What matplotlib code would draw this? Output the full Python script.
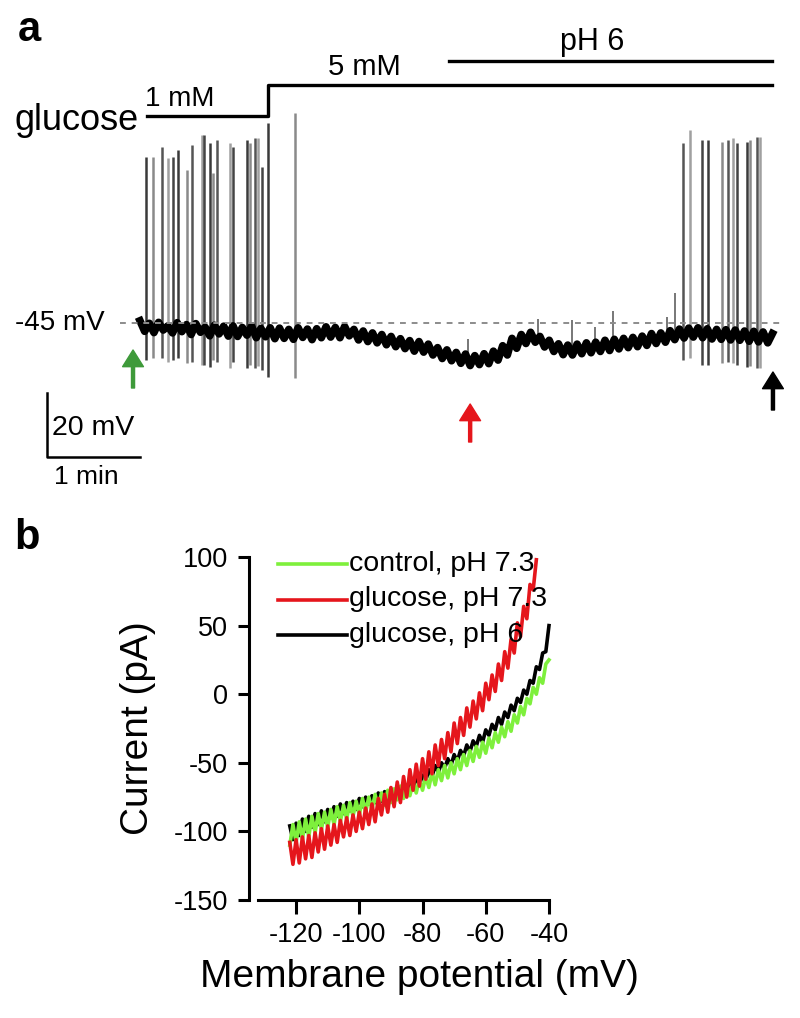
import numpy as np
import matplotlib.pyplot as plt

plt.rcParams['font.family'] = ['Liberation Sans', 'DejaVu Sans']
plt.rcParams['axes.unicode_minus'] = False

# ---------------- panel a : membrane potential trace ----------------
dt = 0.05  # min between baseline samples
baseline_mv = [
    -44.3, -47.6, -45.1, -48.0, -44.8, -47.2, -45.9, -48.1, -44.9, -47.7,
    -45.5, -48.6, -45.2, -47.9, -46.3, -49.0, -45.7, -48.4, -46.0, -49.1,
    -45.9, -49.2, -46.4, -48.8, -46.0, -49.6, -46.7, -49.3, -46.5, -49.9,
    -46.6, -49.8, -47.0, -50.1, -46.5, -49.5, -46.9, -50.2, -46.8, -49.6,
    -46.2, -49.4, -46.4, -49.6, -46.1, -49.0, -47.0, -50.3, -47.5, -50.8,
    -48.1, -51.2, -48.6, -51.8, -49.2, -52.4, -49.9, -53.0, -50.5, -53.8,
    -50.8, -54.1, -51.6, -55.0, -52.7, -56.1, -53.4, -56.8, -54.2, -57.6,
    -54.7, -58.3, -55.2, -58.0, -54.6, -57.7, -53.8, -56.6, -52.1, -55.0,
    -49.8, -52.9, -48.6, -51.4, -47.9, -51.0, -49.2, -52.5, -50.4, -53.9,
    -51.5, -54.9, -51.9, -55.0, -51.6, -54.6, -51.2, -54.3, -51.0, -53.9,
    -50.4, -53.6, -50.1, -53.1, -49.8, -52.7, -49.5, -52.4, -49.1, -52.0,
    -48.3, -51.4, -48.1, -51.0, -47.4, -50.2, -46.9, -49.7, -46.6, -49.4,
    -46.5, -49.6, -46.8, -50.0, -47.0, -50.1, -47.1, -50.3, -47.2, -50.4,
    -47.5, -50.7, -47.6, -50.9, -47.8, -51.2, -48.3,
]

# action potentials (time in min, peak / undershoot in mV)
spike_t = [0.065, 0.14, 0.237, 0.30, 0.355, 0.41, 0.505, 0.56, 0.667, 0.688,
           0.753, 0.785, 0.828, 0.968, 1.0, 1.15, 1.183, 1.237, 1.269, 1.312,
           1.376, 1.667,
           5.839, 5.914, 6.043, 6.108, 6.258, 6.323, 6.376, 6.419, 6.527,
           6.559, 6.634, 6.667]
spike_peak = [6.9, 6.9, 10.0, 6.6, 6.9, 9.1, 2.8, 10.6, 13.8, 13.8,
              11.2, 1.9, 12.2, 11.2, 10.0, 12.2, 11.2, 12.8, 12.8, 3.8,
              17.5, 20.6,
              11.2, 15.3, 12.2, 12.2, 11.6, 12.2, 12.8, 11.2, 11.6,
              12.2, 13.1, 13.1]
spike_trough = [-56.6, -56.0, -56.0, -57.2, -56.6, -56.0, -57.5, -57.2, -58.1, -58.1,
                -58.8, -56.6, -57.2, -59.0, -57.2, -59.0, -58.1, -59.0, -58.4, -59.7,
                -61.9, -62.2,
                -56.6, -56.0, -58.1, -58.1, -57.5, -57.2, -57.5, -58.1, -58.8,
                -58.4, -59.0, -59.0]

# small spikelets after the glucose switch
small_t = [3.527, 4.28, 4.645, 4.89, 5.086, 5.667, 5.753]
small_peak = [-50.0, -43.8, -44.0, -46.2, -41.2, -43.1, -35.6]
small_base = [-56.0, -51.0, -53.0, -52.5, -51.5, -49.0, -49.0]

rest_mv = -45
glucose_on = 0.07       # start of recording / 1 mM bar
glucose_switch = 1.376  # 1 mM -> 5 mM
ph6_start = 3.32
trace_end = 6.8
arrow_t = [-0.075, 3.55, 6.806]

# ---------------- panel b : I-V curves ----------------
v_ramp = np.arange(-122, -39)  # mV, 1 mV steps
i_control = [
    -110, -95, -108, -93, -106, -91, -104, -89, -101, -87,
    -99, -86, -97, -84, -95, -82, -93, -81, -91, -79,
    -89, -78, -88, -76, -86, -75, -84, -73, -83, -72,
    -81, -70, -79, -69, -77, -67, -76, -66, -74, -64,
    -72, -62, -70, -60, -68, -57, -66, -55, -63, -52,
    -61, -50, -58, -47, -55, -44, -52, -41, -49, -38,
    -46, -35, -43, -32, -39, -28, -35, -24, -31, -20,
    -27, -15, -21, -9, -15, -3, -7, 5, 0, 12,
    8, 22, 25,
]
i_glucose = [
    -108, -124, -106, -123, -104, -120, -103, -119, -101, -115,
    -98, -113, -96, -110, -95, -108, -92, -104, -90, -103,
    -88, -100, -86, -98, -83, -95, -80, -93, -76, -88,
    -73, -86, -68, -82, -64, -79, -60, -75, -55, -70,
    -51, -67, -47, -62, -42, -58, -37, -52, -33, -47,
    -28, -42, -21, -36, -17, -30, -10, -24, -5, -18,
    1, -12, 8, -4, 14, 2, 22, 10, 31, 19,
    40, 30, 52, 42, 64, 55, 80, 76, 98,
]
i_glucose_ph6 = [
    -96, -106, -94, -103, -91, -100, -89, -97, -87, -95,
    -85, -93, -84, -90, -82, -89, -80, -87, -79, -85,
    -78, -84, -76, -82, -75, -80, -74, -79, -72, -78,
    -71, -76, -69, -74, -67, -72, -65, -70, -63, -68,
    -61, -66, -59, -63, -55, -60, -52, -57, -50, -54,
    -47, -52, -44, -49, -41, -45, -37, -42, -34, -38,
    -30, -35, -26, -30, -22, -26, -17, -22, -13, -17,
    -8, -12, -3, -6, 3, 0, 10, 8, 20, 18,
    30, 31, 50,
]
series = [
    ('glucose, pH 6', i_glucose_ph6, 'black'),
    ('control, pH 7.3', i_control, '#7ef03c'),
    ('glucose, pH 7.3', i_glucose, '#e5161c'),
]
legend_order = [1, 2, 0]

# ---------------- figure ----------------
W, H = 800, 1018
fig = plt.figure(figsize=(W / 100, H / 100), dpi=100)


def px2t(px):
    return (px - 140) / 93.0


def py2mv(py):
    return -45 + (323 - py) / 3.2


ax_a = fig.add_axes([0, 1 - 500 / H, 1, 500 / H])
ax_a.set_xlim(px2t(0), px2t(W))
ax_a.set_ylim(py2mv(500), py2mv(0))
ax_a.axis('off')

t = np.arange(len(baseline_mv)) * dt
grays = ['#3a3a3a', '#8a8a8a', '#555555', '#a0a0a0', '#444444']
ax_a.vlines(spike_t, spike_trough, spike_peak,
            colors=[grays[i % 5] for i in range(len(spike_t))], lw=1.8)
ax_a.vlines(small_t, small_base, small_peak, colors='#777777', lw=1.4)
ax_a.plot(t, baseline_mv, color='black', lw=5.5, solid_joinstyle='round')

ax_a.plot([px2t(120), px2t(785)], [rest_mv, rest_mv], color='#8c8c8c',
          lw=1.4, ls=(0, (3, 3)))
ax_a.text(px2t(105), rest_mv, '-45 mV', ha='right', va='center', fontsize=20)

# solution bars
y_low, y_high, y_ph = py2mv(116), py2mv(85), py2mv(61)
ax_a.plot([glucose_on, glucose_switch, glucose_switch, trace_end],
          [y_low, y_low, y_high, y_high], color='black', lw=2.4)
ax_a.plot([ph6_start, trace_end], [y_ph, y_ph], color='black', lw=2.4)
ax_a.text(px2t(14), py2mv(120), 'glucose', ha='left', va='center', fontsize=26)
ax_a.text(px2t(180), py2mv(99), '1 mM', ha='center', va='center', fontsize=20)
ax_a.text(px2t(364), py2mv(67), '5 mM', ha='center', va='center', fontsize=21)
ax_a.text(px2t(592), py2mv(42), 'pH 6', ha='center', va='center', fontsize=22)

# arrows
for at, tip, tail, c in zip(arrow_t, [py2mv(350), py2mv(404), py2mv(372)],
                            [py2mv(388), py2mv(442), py2mv(410)],
                            ['#3e9a3a', '#e5161c', 'black']):
    ax_a.annotate('', xy=(at, tip), xytext=(at, tail),
                  arrowprops=dict(facecolor=c, edgecolor=c, width=2.2,
                                  headwidth=15, headlength=12, shrink=0))

# scale bar 20 mV / 1 min
x0, y0 = px2t(47), py2mv(457)
ax_a.plot([x0, x0, x0 + 1], [y0 + 20, y0, y0], color='black', lw=1.8)
ax_a.text(px2t(52), y0 + 9, '20 mV', ha='left', va='center', fontsize=20.5)
ax_a.text(x0 + 0.42, py2mv(477), '1 min', ha='center', va='center', fontsize=19)

# ---------------- panel b axes ----------------
ax_b = fig.add_axes([249 / W, 118 / H, 306.3 / W, 343 / H])
for label, cur, c in series:
    ax_b.plot(v_ramp[:len(cur)], cur, color=c, lw=2.6, clip_on=False)
ax_b.set_xlim(-134.9, -38)
ax_b.set_ylim(-150, 100)
ax_b.spines['top'].set_visible(False)
ax_b.spines['right'].set_visible(False)
ax_b.spines['left'].set_bounds(-150, 100)
ax_b.spines['bottom'].set_bounds(-132, -40)
for s in ('left', 'bottom'):
    ax_b.spines[s].set_linewidth(2.2)
ax_b.set_xticks([-120, -100, -80, -60, -40])
ax_b.set_yticks([-150, -100, -50, 0, 50, 100])
ax_b.tick_params(direction='out', width=2.2, labelsize=19.5)
ax_b.tick_params(axis='x', length=10, pad=6)
ax_b.tick_params(axis='y', length=8, pad=7)
ax_b.set_xlabel('Membrane potential (mV)', fontsize=28)
ax_b.set_ylabel('Current (pA)', fontsize=28)
ax_b.xaxis.set_label_coords(0.558, -0.172)
ax_b.yaxis.set_label_coords(-0.305, 0.5)

# ---------------- overlay: panel letters and legend ----------------
ov = fig.add_axes([0, 0, 1, 1])
ov.set_xlim(0, W)
ov.set_ylim(H, 0)
ov.axis('off')
ov.text(18, 10, 'a', fontsize=30, fontweight='bold', ha='left', va='top')
ov.text(14, 518, 'b', fontsize=30, fontweight='bold', ha='left', va='top')
for row, k in enumerate(legend_order):
    label, cur, c = series[k]
    y = 564 + 35.5 * row
    ov.plot([278, 347], [y, y], color=c, lw=2.6)
    ov.text(349, y, label, ha='left', va='center', fontsize=20.5)

fig.savefig('out.png', dpi=100)
